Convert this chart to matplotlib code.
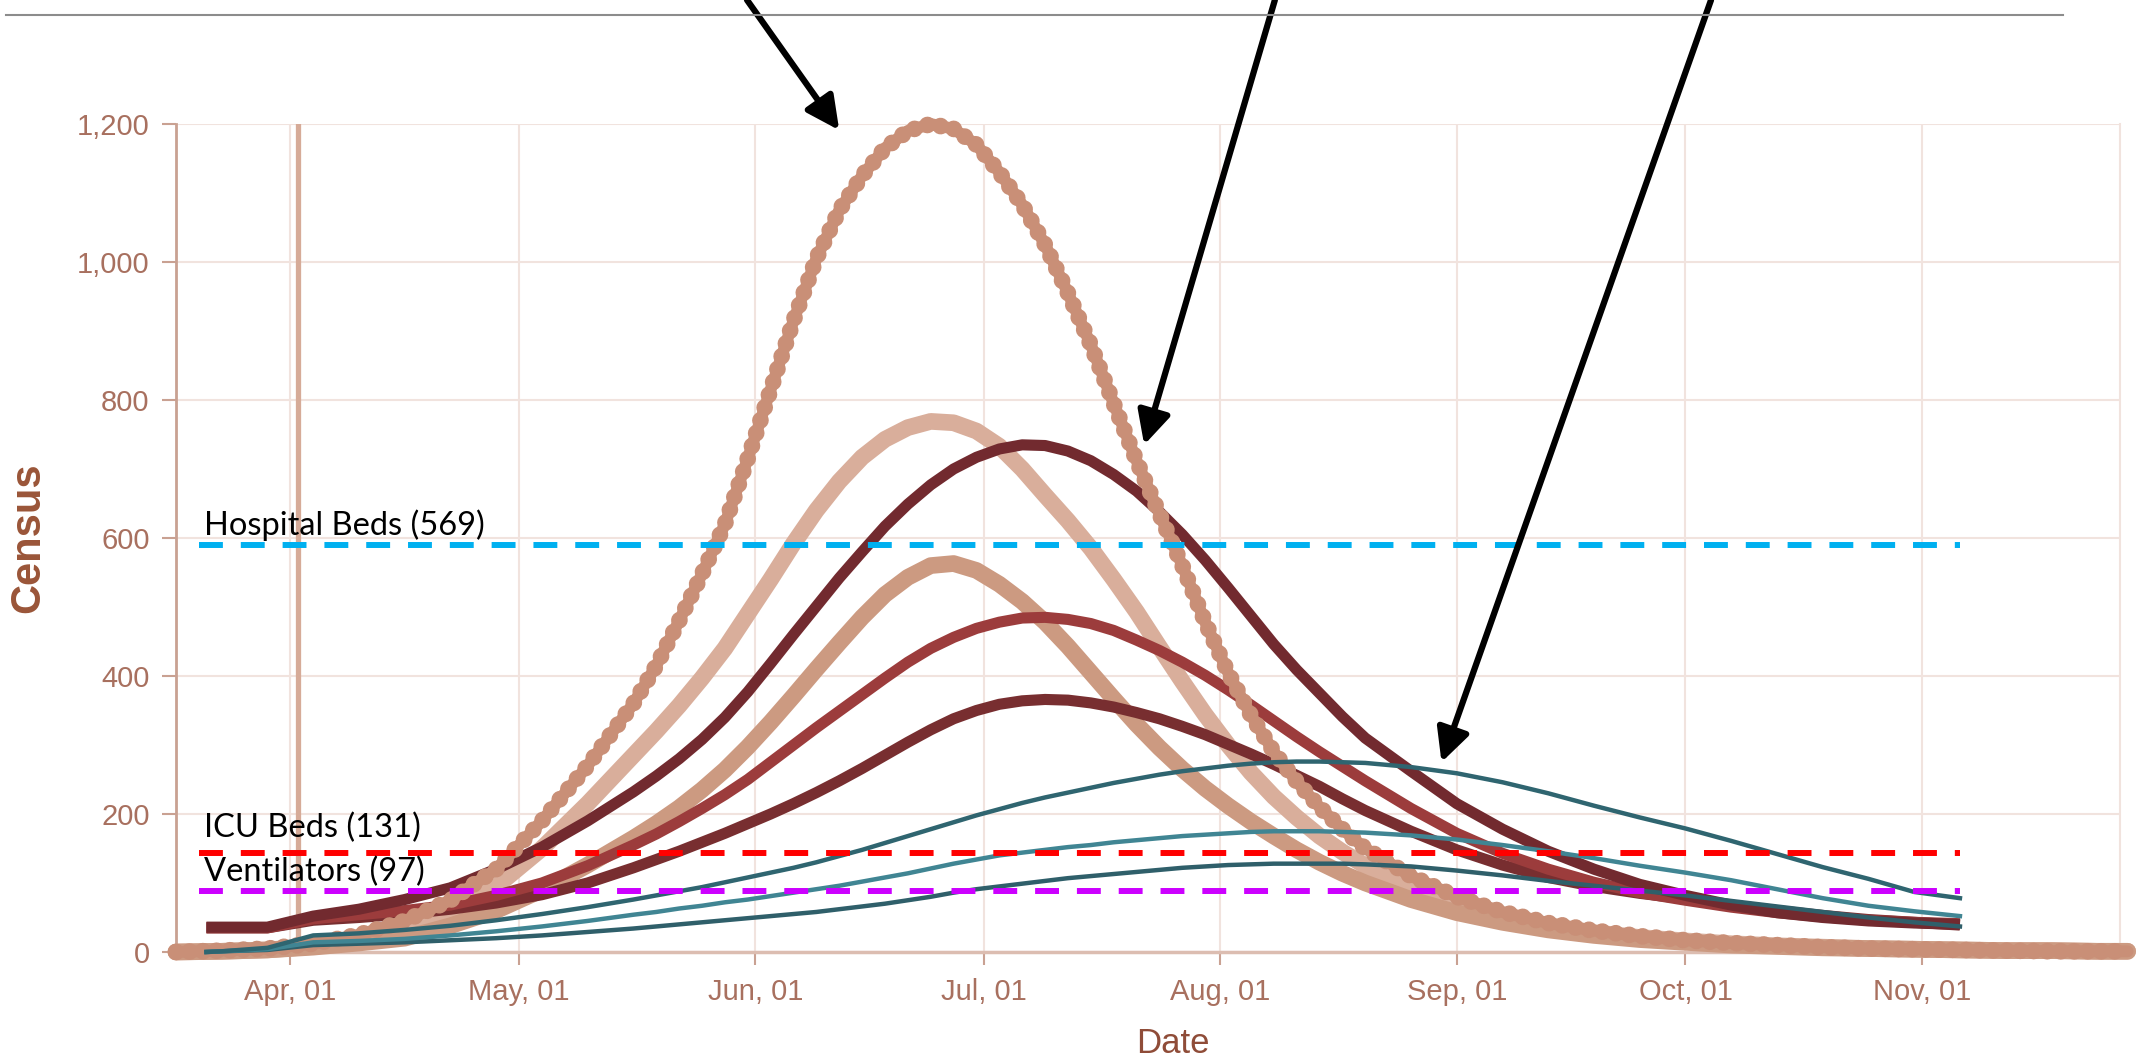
import matplotlib
matplotlib.use("Agg")
import matplotlib.pyplot as plt
import matplotlib.dates as mdates
from matplotlib.lines import Line2D
import pandas as pd

# sample days, counted from Apr 1 (denser around the peaks)
days_long = list(range(-15, 45, 6)) + list(range(45, 142, 3)) + list(range(147, 238, 6)) + [241]
days_short = [-11] + list(range(-9, 45, 6)) + list(range(45, 142, 3)) + list(range(147, 220, 6))

dotted_tan = [0, 2, 5, 12, 25, 45, 75, 120, 190, 270,
              360, 415, 480, 548, 620, 715, 815, 915, 1005, 1075, 1125, 1165, 1190, 1200, 1193,
              1170, 1130, 1083, 1025, 955, 880, 795, 712, 635, 560, 478, 405, 343, 290, 247,
              210, 178, 150,
              110, 80, 58, 42, 31, 23, 17, 13, 10, 7, 5, 4, 3, 2, 1, 1, 1]
light_tan = [0, 1, 3, 8, 15, 28, 55, 95, 150, 215,
             285, 320, 357, 397, 440, 490, 540, 592, 640, 682, 717, 743, 760, 769, 767,
             755, 733, 700, 662, 625, 585, 540, 493, 442, 392, 344, 300, 260, 225, 195,
             168, 145, 125,
             92, 68, 50, 37, 28, 21, 16, 12, 9, 7, 5, 4, 3, 2, 2, 1, 1]
mid_tan = [0, 1, 3, 7, 13, 20, 38, 60, 90, 126,
           165, 186, 209, 235, 264, 297, 333, 371, 410, 448, 485, 518, 543, 560, 563,
           553, 533, 508, 478, 443, 405, 367, 330, 296, 265, 237, 212, 189, 168, 148,
           130, 114, 100,
           76, 57, 43, 32, 24, 18, 14, 10, 8, 6, 5, 4, 3, 2, 2, 1, 1]
maroon_big = [36, 36, 36, 52, 62, 76, 93, 120, 152, 190,
              232, 255, 280, 308, 340, 377, 418, 460, 501, 542, 580, 617, 649, 677, 700,
              717, 729, 735, 734, 726, 712, 692, 668, 638, 605, 568, 528, 487, 446, 409,
              375, 341, 310,
              262, 215, 178, 146, 120, 98, 82, 68, 57, 50, 45, 42, 40]
red_mid = [35, 35, 35, 48, 54, 60, 68, 82, 100, 125,
           155, 171, 189, 208, 228, 250, 275, 300, 325, 349, 373, 397, 420, 440, 456,
           469, 478, 484, 485, 482, 476, 466, 452, 437, 420, 401, 380, 358, 335, 312,
           290, 269, 248,
           208, 172, 143, 120, 101, 86, 75, 65, 57, 51, 46, 43, 41]
maroon_small = [35, 35, 35, 46, 50, 55, 62, 71, 83, 100,
                122, 134, 146, 159, 172, 186, 200, 215, 231, 248, 266, 285, 304, 322, 338,
                350, 359, 364, 366, 365, 361, 355, 347, 338, 327, 315, 301, 287, 272, 256,
                240, 222, 205,
                175, 148, 126, 108, 95, 85, 77, 68, 60, 53, 47, 43, 39]
teal_big = [0, 1, 6, 24, 27, 32, 38, 46, 55, 65,
            76, 82, 88, 94, 101, 108, 115, 122, 130, 139, 148, 158, 168, 178, 188,
            198, 207, 216, 224, 231, 238, 245, 251, 257, 262, 266, 270, 273, 275, 276,
            276, 275, 274,
            268, 259, 246, 230, 212, 195, 179, 161, 142, 123, 106, 87, 78]
teal_mid = [0, 1, 4, 14, 16, 19, 24, 30, 37, 45,
            54, 58, 63, 67, 72, 76, 81, 86, 91, 96, 102, 108, 114, 121, 128,
            134, 140, 144, 148, 152, 155, 159, 162, 165, 168, 170, 172, 174, 175, 175,
            175, 174, 173,
            169, 163, 155, 146, 136, 125, 115, 104, 91, 78, 67, 59, 52]
teal_small = [0, 1, 3, 10, 12, 14, 17, 20, 24, 29,
              34, 37, 40, 43, 46, 49, 52, 55, 58, 62, 66, 70, 75, 80, 86,
              91, 95, 99, 103, 107, 110, 113, 116, 119, 122, 124, 126, 127, 128, 128,
              128, 128, 127,
              124, 118, 111, 103, 96, 89, 82, 74, 66, 58, 50, 43, 37]

cap_labels = ["Hospital Beds (569)", "ICU Beds (131)", "Ventilators (97)"]
cap_levels = [590, 144, 89]
cap_colors = ["#00b0f0", "#ff0000", "#cc00ff"]
cap_offsets = [7, 11, 7]
cap_start = pd.Timestamp("2020-03-20")
cap_end = pd.Timestamp("2020-11-06")

today = pd.Timestamp("2020-04-02")

# arrow tips (date, census) and where they leave the top of the figure
arrow_tips = [("2020-06-12", 1191), ("2020-07-22", 735), ("2020-08-30", 275)]
arrow_tops = [0.3494, 0.5963, 0.8003]

yticks = [0, 200, 400, 600, 800, 1000, 1200]
month_ticks = pd.date_range("2020-04-01", "2020-11-01", freq="MS")

day0 = pd.Timestamp("2020-04-01")
dates_long = day0 + pd.to_timedelta(days_long, unit="D")
dates_short = day0 + pd.to_timedelta(days_short, unit="D")

tick_font = ["Liberation Sans Narrow", "Liberation Sans", "DejaVu Sans"]
tick_col = "#a8705f"
spine_col = "#c9a192"
grid_col = "#f1e3de"

fig = plt.figure(figsize=(21.38, 10.58), dpi=100)
ax = fig.add_axes([0.0823, 0.1002, 0.9093, 0.7826])
ax.set_xlim(pd.Timestamp("2020-03-17"), pd.Timestamp("2020-11-27"))
ax.set_ylim(0, 1200)

ax.set_yticks(yticks)
ax.set_yticklabels([f"{v:,}" for v in yticks])
ax.set_xticks(month_ticks)
ax.xaxis.set_major_formatter(mdates.DateFormatter("%b, %d"))
ax.grid(True, color=grid_col, lw=1.5, zorder=0)
ax.set_axisbelow(True)

ax.spines["top"].set_visible(False)
ax.spines["right"].set_color(grid_col)
ax.spines["right"].set_linewidth(1.5)
ax.spines["left"].set_color(spine_col)
ax.spines["left"].set_linewidth(2)
ax.spines["bottom"].set_color("#dcbdb1")
ax.spines["bottom"].set_linewidth(2.5)

ax.tick_params(axis="y", length=10, width=1.5, color=spine_col, pad=9,
               labelcolor=tick_col, labelsize=21)
ax.tick_params(axis="x", length=9, width=1.5, color=spine_col, pad=10,
               labelcolor=tick_col, labelsize=21)
for lab in ax.get_xticklabels() + ax.get_yticklabels():
    lab.set_family(tick_font)

ax.set_ylabel("Census", fontsize=30, fontweight="bold", color="#9a5538", family=tick_font)
ax.yaxis.label.set_va("center")
ax.yaxis.set_label_coords(-0.076, 0.5)
ax.set_xlabel("Date", fontsize=25, color="#8f4c38", family=tick_font)
ax.xaxis.label.set_va("center")
ax.xaxis.set_label_coords(0.513, -0.11)

# "today" marker
ax.axvline(today, color="#d6ab98", lw=3.8, zorder=1)

# tan curves
ax.plot(dates_long, light_tan, color="#d9ae9b", lw=12, solid_capstyle="round",
        zorder=2, clip_on=False)
ax.plot(dates_long, mid_tan, color="#cc9a81", lw=12, solid_capstyle="round",
        zorder=3, clip_on=False)

# maroon curves
ax.plot(dates_short, maroon_small, color="#782e30", lw=8, solid_capstyle="butt",
        zorder=4, clip_on=False)
ax.plot(dates_short, red_mid, color="#9c3c3c", lw=8, solid_capstyle="butt",
        zorder=4, clip_on=False)
ax.plot(dates_short, maroon_big, color="#722a2f", lw=8, solid_capstyle="butt",
        zorder=4, clip_on=False)

# beaded tan curve
ax.plot(dates_long, dotted_tan, color="#c98f77", lw=8.5, solid_capstyle="round",
        zorder=5, clip_on=False)
ax.plot(dates_long, dotted_tan, color="#c98f77", lw=12, ls=(0, (0.01, 0.8)),
        dash_capstyle="round", zorder=5, clip_on=False)

# teal curves
ax.plot(dates_short, teal_small, color="#2f5f6a", lw=3.2, zorder=6, clip_on=False)
ax.plot(dates_short, teal_mid, color="#408593", lw=3.2, zorder=6, clip_on=False)
ax.plot(dates_short, teal_big, color="#2f6570", lw=3.2, zorder=6, clip_on=False)

# capacity lines
for lab, lev, col, off in zip(cap_labels, cap_levels, cap_colors, cap_offsets):
    ax.hlines(lev, cap_start, cap_end, colors=col, lw=4.3, linestyles=(0, (4, 3)),
              zorder=7)
    ax.annotate(lab, (cap_start, lev), xytext=(4, off), textcoords="offset points",
                fontsize=23.5, family=["Lato", "DejaVu Sans"], color="black",
                va="baseline", ha="left", zorder=8)

# arrows coming in from the top
for (d, v), fx in zip(arrow_tips, arrow_tops):
    ax.annotate("", xy=(pd.Timestamp(d), v), xycoords="data",
                xytext=(fx, 1.0), textcoords="figure fraction",
                arrowprops=dict(arrowstyle="-|>", color="black", lw=4.5,
                                mutation_scale=50, shrinkA=0, shrinkB=0),
                annotation_clip=False, zorder=9)

# grey rule along the top of the picture
fig.add_artist(Line2D([0.003, 0.965], [0.986, 0.986], transform=fig.transFigure,
                      color="#8c8c8c", lw=1.5))

fig.savefig("out.png", dpi=100)
